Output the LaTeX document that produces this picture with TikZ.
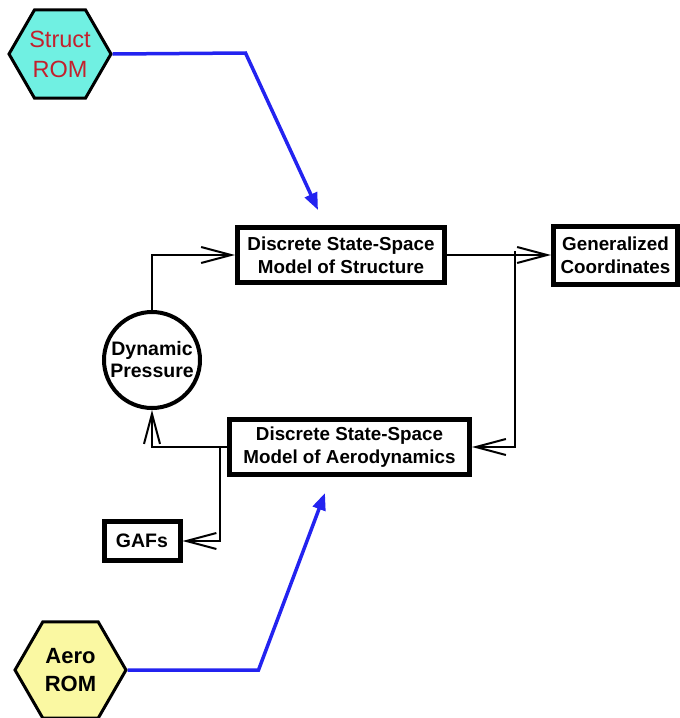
\documentclass[tikz,border=0pt]{standalone}
\usepackage{fontspec}
\setmainfont{Liberation Sans}
\usetikzlibrary{shapes.geometric,arrows.meta}
\definecolor{bluearrow}{RGB}{35,35,240}
\definecolor{hexcyan}{RGB}{112,240,226}
\definecolor{hexyellow}{RGB}{250,248,162}
\definecolor{romred}{RGB}{195,32,45}
\tikzset{
  blockbox/.style={draw, line width=5pt, rectangle, inner sep=0pt, align=center,
    font=\bfseries\fontsize{18.8}{23}\selectfont},
  dpcircle/.style={draw, line width=4pt, circle, inner sep=0pt, minimum size=96pt, align=center,
    font=\bfseries\fontsize{19.5}{22}\selectfont},
  hexa/.style={draw, line width=3pt, regular polygon, regular polygon sides=6, inner sep=0pt},
  conn/.style={line width=2pt, -{Straight Barb[length=30pt,width=16pt]}},
  bluelink/.style={draw=bluearrow, line width=3.5pt, line join=miter, -{Triangle[length=17pt,width=13pt]}}
}
\begin{document}
\begin{tikzpicture}[x=1pt,y=-1pt]
\useasboundingbox (0,0) rectangle (680,718);

% hexagons
\node[hexa, fill=hexcyan, minimum size=102pt] (srhex) at (60,54) {};
\node[text=romred, align=center, font=\fontsize{23.5}{30}\selectfont] (srtext) at (srhex.center) {Struct\\ROM};
\node[hexa, fill=hexyellow, minimum size=111pt] (arhex) at (70.5,670) {};
\node[align=center, font=\bfseries\fontsize{22}{28}\selectfont] (artext) at (arhex.center) {Aero\\ROM};

% blocks
\node[blockbox, minimum width=207pt, minimum height=55pt] (b1) at (341,255) {Discrete State-Space\\Model of Structure};
\node[blockbox, minimum width=124pt, minimum height=58pt] (gc) at (615.5,255) {Generalized\\Coordinates};
\node[blockbox, minimum width=240pt, minimum height=55pt] (b2) at (349.5,447) {Discrete State-Space\\Model of Aerodynamics};
\node[blockbox, minimum width=76pt, minimum height=39pt, font=\bfseries\fontsize{19.5}{23}\selectfont] (gafs) at (142,541) {GAFs};
\node[dpcircle] (dp) at (152,360) {Dynamic\\Pressure};

% black connectors
\draw[conn] (dp.north) |- (b1.west);
\draw[conn] (b1.east) -- (b1.east -| gc.west);
\coordinate (j1) at (515,251);
\draw[conn] (j1) |- (b2.east);
\draw[conn] (b2.west) -| (dp.south);
\coordinate (j2) at (220,447);
\draw[conn] (j2) |- (gafs.east);

% blue links
\coordinate (bend1) at (245.5,53);
\coordinate (tip1) at (318,210);
\draw[bluelink] (srhex.east) -- (bend1) -- (tip1);
\coordinate (bend2) at (258.5,670);
\coordinate (tip2) at (325,493);
\draw[bluelink] (arhex.east) -- (bend2) -- (tip2);
\end{tikzpicture}
\end{document}
